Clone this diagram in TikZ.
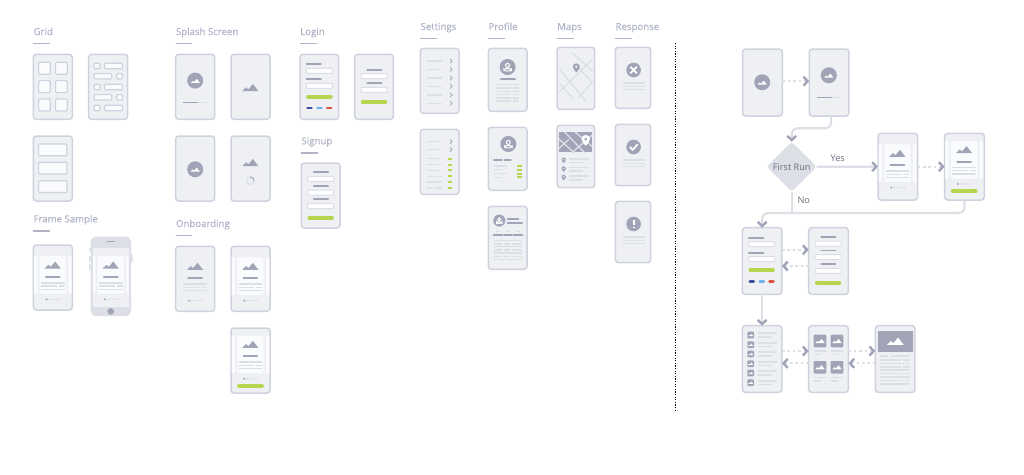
\documentclass[tikz,border=0pt]{standalone}
\usepackage{fontspec}
\setmainfont{Open Sans}
\newfontfamily\headfont[FakeBold=0.25]{Open Sans}
\usetikzlibrary{arrows.meta,shapes.geometric}
\definecolor{wfpaper}{HTML}{EFF0F4}
\definecolor{wfedge}{HTML}{CFD2DE}
\definecolor{wfgray}{HTML}{A1A4B6}
\definecolor{wfsoft}{HTML}{DDDFE7}
\definecolor{wfcell}{HTML}{FAFBFC}
\definecolor{wfhead}{HTML}{B0B4C6}
\definecolor{wfgreen}{HTML}{B6D64F}
\definecolor{wfblue}{HTML}{3F4F9B}
\definecolor{wfsky}{HTML}{6BB0EE}
\definecolor{wfred}{HTML}{D9553F}
\definecolor{wftext}{HTML}{6A6E7C}
\def\px{0.025cm}
\tikzset{
  wfscreen/.style={draw=wfedge, fill=wfpaper, line width=1.5*\px, rounded corners=3*\px, anchor=north west, inner sep=0, outer sep=0},
  wfbox/.style={draw=wfedge, fill=wfcell, line width=1.2*\px, rounded corners=1*\px},
  wffield/.style={draw=wfsoft, fill=white, line width=1*\px, rounded corners=.8*\px},
  softline/.style={draw=wfsoft, line width=1.6*\px},
  darkline/.style={draw=wfgray, line width=1.8*\px, line cap=round},
  greenbar/.style={draw=wfgreen, line width=3.8*\px, line cap=round},
  headtext/.style={font=\headfont\fontsize{6.85}{9}\selectfont, text=wfhead, anchor=base west, inner sep=0},
  flowtext/.style={font=\fontsize{6.5}{9}\selectfont, text=wftext, inner sep=0},
  flowline/.style={draw=wfsoft, line width=2.2*\px, -{Straight Barb[color=wfgray, length=4.2*\px, width=9*\px, line width=2.4*\px]}},
  dotline/.style={flowline, dash pattern=on 2.6*\px off 2.8*\px},
}
% headings and screens
\newcommand{\heading}[4]{%
  \node[headtext] (#1) at (#2,#3) {#4};
  \draw[draw=wfhead, line width=1.2*\px] (#2,#3+8.7) -- ++(16.5,0);}
\newcommand{\wfnode}[6]{%
  \node[wfscreen, minimum width=#4*\px, minimum height=#5*\px] (#1) at (#2,#3) {};
  \begin{scope}[shift={(#1.north west)}] #6 \end{scope}}
% small pieces
\newcommand{\peaks}[4]{\fill[#4, shift={(#1,#2)}, scale=#3] (-8,3.5) -- (-4.2,-.2) -- (-1.9,1.9) -- (2.6,-3.5) -- (8,3.5) -- cycle;}
\newcommand{\roundpeaks}[2]{\fill[wfgray] (#1,#2) circle[radius=8]; \peaks{#1}{#2+.3}{.58}{white}}
\newcommand{\person}[3]{%
  \fill[wfgray] (#1,#2) circle[radius=#3];
  \begin{scope}[shift={(#1,#2)}, scale=#3/8]
    \draw[white, line width=1*\px] (0,-1.6) circle[radius=2];
    \draw[white, line width=1*\px, rounded corners=1.5*\px] (-3.7,3.8) -- (-3.7,1.6) -- (3.7,1.6) -- (3.7,3.8) -- cycle;
  \end{scope}}
\newcommand{\mappin}[5]{%
  \begin{scope}[shift={(#1,#2)}, scale=#3]
    \fill[#4] (0,4.6) .. controls (-1.5,2.6) and (-3.5,.8) .. (-3.5,-1) arc[start angle=180, end angle=360, radius=3.5] .. controls (3.5,.8) and (1.5,2.6) .. (0,4.6) -- cycle;
    \fill[#5] (0,-1) circle[radius=1.3];
  \end{scope}}
\newcommand{\field}[1]{\draw[wffield] (6.3,#1) rectangle (32.3,#1+5);}
\newcommand{\textlines}[3]{% x start, x end, first y
  \draw[softline] (#1,#3) -- (#2,#3) (#1,#3+3.3) -- (#2-8,#3+3.3) (#2-6,#3+3.3) -- (#2,#3+3.3) (#1,#3+6.6) -- (#2,#3+6.6);}
\newcommand{\carddots}[1]{%
  \foreach \dx in {16,18.7,21.4,24.1,26.8} {\fill[wfsoft] (\dx,#1) circle[radius=1];}
  \fill[wfgray] (13.3,#1) circle[radius=1.1];}
% screen contents
\newcommand{\gridboxes}{\foreach \y in {8,26.3,44.7} {\foreach \x in {5.3,22.3} {\draw[wfbox] (\x,\y) rectangle ++(11.6,12);}}}
\newcommand{\listboxes}{%
  \foreach \y in {11.7,32.7,53.7} {\draw[wfbox] (5.3,\y-2.7) rectangle ++(6,5.4); \draw[wfbox] (15.7,\y-2.7) rectangle ++(18,5.4);}
  \foreach \y in {22,43} {\draw[wfbox] (5.3,\y-2.7) rectangle ++(17.7,5.4); \draw[wfbox] (28,\y-2.7) rectangle ++(5.7,5.4);}}
\newcommand{\rowboxes}{\foreach \y in {8,26.3,44.7} {\draw[wfbox] (5.3,\y) rectangle ++(28.4,11.7);}}
\newcommand{\splashload}{\roundpeaks{19.5}{26.3} \draw[draw=wfsoft, line width=1.3*\px] (7.7,48.3) -- (31,48.3); \draw[draw=wfgray, line width=1.3*\px] (7.7,48.3) -- (22.7,48.3);}
\newcommand{\splashpeaks}{\peaks{19.3}{33.2}{1}{wfgray}}
\newcommand{\splashround}{\roundpeaks{19.5}{33.3}}
\newcommand{\splashspin}{\peaks{19.3}{26.5}{1}{wfgray} \draw[draw=wfsoft, line width=1*\px] (19.3,44.7) circle[radius=3.8]; \draw[draw=wfgray, line width=1*\px] (19.3,40.9) arc[start angle=270, end angle=360, radius=3.8];}
\newcommand{\cardbody}[1]{% y offset of the card
  \begin{scope}[yshift=#1*\px]
    \peaks{19.3}{20}{1}{wfgray}
    \draw[darkline] (12.5,32) -- (26.3,32);
    \textlines{7.7}{31.3}{37.7}
  \end{scope}}
\newcommand{\cardback}[1]{%
  \fill[wfcell, rounded corners=1.5*\px] (6.3,11-#1) rectangle (32.7,48.7-#1);
  \fill[wfcell] (.6,11-#1) rectangle (4,48.7-#1) (35,11-#1) rectangle (38.4,48.7-#1);}
\newcommand{\onboardplain}{\cardbody{0} \carddots{54.3}}
\newcommand{\onboardcard}{\cardback{0} \cardbody{0} \carddots{54.3}}
\newcommand{\onboardbutton}{\cardback{3.5} \cardbody{3.7} \carddots{50.7} \draw[greenbar] (8,57.7) -- (31,57.7);}
\newcommand{\socialdots}[1]{%
  \draw[draw=wfblue, line width=2.6*\px, line cap=round] (7.5,#1) -- (11.5,#1);
  \draw[draw=wfsky, line width=2.6*\px, line cap=round] (17.5,#1) -- (21.5,#1);
  \draw[draw=wfred, line width=2.6*\px, line cap=round] (27.2,#1) -- (31.2,#1);}
\newcommand{\loginfull}{\draw[darkline] (6.5,10) -- (21,10); \field{14} \draw[darkline] (6.5,25) -- (21,25); \field{29} \draw[greenbar] (8,42.3) -- (30.7,42.3); \socialdots{53.7}}
\newcommand{\loginshort}{\draw[darkline] (12.5,15.3) -- (26.8,15.3); \field{19.3} \draw[darkline] (12.5,29) -- (26.8,29); \field{33} \draw[greenbar] (8,47.7) -- (30.7,47.7);}
\newcommand{\signupform}{\foreach \y in {9,22.7,36.3} {\draw[darkline] (12.5,\y) -- (26.8,\y); \field{\y+4.3}} \draw[greenbar] (8,55) -- (30.7,55);}
\newcommand{\chevrow}[1]{\draw[softline] (6.3,#1) -- (21.3,#1); \draw[draw=wfgray!80, line width=1.1*\px] (29.7,#1-2.2) -- (31.7,#1) -- (29.7,#1+2.2);}
\newcommand{\settingsplain}{\foreach \y in {12.7,21,29.7,38,46.7,55} {\chevrow{\y}}}
\newcommand{\settingsgreen}{%
  \foreach \y in {12.3,20.3} {\chevrow{\y}}
  \foreach \y in {29.3,41,52.7} {\draw[softline] (6.3,\y) -- (21.3,\y);}
  \foreach \y in {35.3,47,58.7} {\draw[softline] (6.3,\y) -- (12.5,\y) (14.5,\y) -- (21.3,\y);}
  \foreach \y in {29.3,35.3,41,47,52.7,58.7} {\draw[draw=wfgreen, line width=1.8*\px] (27.2,\y) -- (32,\y);}}
\newcommand{\profiletext}{\person{19.3}{18.7}{8} \draw[darkline] (12.5,31) -- (26.8,31);
  \foreach \y in {36.3,43,49.7} {\draw[softline] (8,\y) -- (31,\y);}
  \foreach \y in {39.7,46.3,52.9} {\draw[softline] (8,\y) -- (23,\y) (25,\y) -- (31,\y);}}
\newcommand{\profilegreen}{\person{20}{16.7}{8}
  \draw[darkline] (5.5,32.7) -- (13.5,32.7) (16.2,32.7) -- (22.5,32.7);
  \foreach \y/\x in {38.7/19,42.3/14,46.3/19,50/14} {\draw[softline] (5.3,\y) -- (\x,\y); \draw[draw=wfgreen, line width=1.8*\px] (29,\y) -- (34,\y);}}
\newcommand{\profilefeed}{\person{11}{14.3}{6}
  \draw[darkline] (19.2,13) -- (30,13) (19.2,16.3) -- (33.8,16.3);
  \foreach \xa/\xb in {5.3/14,15.7/23.7,25.3/34} {\draw[darkline] (\xa,28.7) -- (\xb,28.7); \draw[softline] (\xa+2,25.3) -- (\xb-2,25.3);}
  \foreach \y in {34.3,40.3,46.7,53} {\draw[softline] (5.3,\y) -- (34,\y);}
  \foreach \y in {37.7,43.7,50} {\draw[softline] (5.3,\y) -- (14,\y) (16,\y) -- (22,\y) (24,\y) -- (34,\y);}}
\newcommand{\mapstreets}{%
  \draw[draw=wfsoft, line width=1.3*\px] (15.3,5.3) -- (35.7,24.3) (35,12.7) -- (1.7,45) (2,21) -- (29.7,55) (2.3,36) -- (17,52) (36,34) -- (21,51) (21,20) -- (36,35.5);
  \mappin{19.3}{20.5}{1}{wfgray}{wfpaper}}
\newcommand{\maplist}{%
  \fill[wfgray] (2,6.7) rectangle (35.3,27);
  \begin{scope}
    \clip (2,6.7) rectangle (35.3,27);
    \draw[draw=wfsoft, line width=1.3*\px] (6,5) -- (30,30) (16,5) -- (35,21) (36,9) -- (12,30) (2,23) -- (12,14) (0,12) -- (20,30);
  \end{scope}
  \mappin{28.7}{15}{1.2}{white}{wfgray}
  \foreach \y in {35,43.7,52.3} {\mappin{6.7}{\y}{.62}{wfgray}{wfpaper} \draw[softline] (12.3,\y-1.4) -- (32.3,\y-1.4) (12.3,\y+2.2) -- (25.7,\y+2.2);}}
\newcommand{\replies}[1]{\fill[wfgray] (18.3,22.7) circle[radius=7.3]; #1
  \draw[softline] (8,35.7) -- (29.3,35.7) (8,39) -- (21.3,39) (23.7,39) -- (29.3,39) (8,42.3) -- (29.3,42.3);}
\newcommand{\replycross}{\replies{\draw[white, line width=1.7*\px] (15,19.4) -- (21.6,26) (21.6,19.4) -- (15,26);}}
\newcommand{\replycheck}{\replies{\draw[white, line width=1.7*\px] (14.6,22.7) -- (17.4,25.5) -- (22.4,19.9);}}
\newcommand{\replybang}{\replies{\draw[white, line width=1.8*\px] (18.3,18.8) -- (18.3,23.6) (18.3,25.2) -- (18.3,26.8);}}
\newcommand{\thumbs}[4]{% x, y, size, mountain scale
  \fill[wfgray, rounded corners=1*\px] (#1,#2) rectangle ++(#3,#3); \peaks{#1+#3/2}{#2+#3/2}{#4}{white}}
\newcommand{\thumblist}{\foreach \y in {9.3,19,28.3,38,47.3,57} {\thumbs{5}{\y-3.3}{6.7}{.32} \draw[softline] (16,\y-2) -- (34.7,\y-2) (16,\y+1.7) -- (30,\y+1.7);}}
\newcommand{\thumbgrid}{\foreach \y in {9,35.3} {\foreach \x in {5,22} {\thumbs{\x}{\y}{12.6}{.6} \draw[softline] (\x,\y+16.3) -- (\x+12,\y+16.3) (\x,\y+19.7) -- (\x+7,\y+19.7);}}}
\newcommand{\articleview}{\fill[wfgray] (2.3,5) rectangle (37.3,26.3); \peaks{20}{15.5}{1.05}{white}
  \foreach \y in {34,41,47.7,54.7} {\draw[softline] (5,\y) -- (26,\y) (28,\y) -- (34.7,\y);}
  \foreach \y in {37.7,44.3,51,58} {\draw[softline] (5,\y) -- (34.7,\y);}
  \draw[softline] (5,30.3) -- (13,30.3) (16,30.3) -- (34.7,30.3);}
\begin{document}
\begin{tikzpicture}[x=\px, y=-\px]
\useasboundingbox (0,0) rectangle (1024,474);
% Grid
\heading{gridhead}{33.3}{35}{Grid}
\wfnode{gridA}{33.3}{54.3}{39}{65}{\gridboxes}
\wfnode{gridB}{88.7}{54.3}{39}{65}{\listboxes}
\wfnode{gridC}{33.3}{136}{39}{65}{\rowboxes}
% Frame sample
\heading{samplehead}{33.3}{222.3}{Frame Sample}
\wfnode{sampleA}{33.3}{245}{39}{65}{\onboardcard}
\node[wfscreen, draw=none, fill=wfsoft, minimum width=40.3*\px, minimum height=79.3*\px, rounded corners=5*\px] (phone) at (90.7,236.7) {};
\begin{scope}[shift={(phone.north west)}]
  \fill[wfsoft, rounded corners=.8*\px] (-1.7,11) rectangle (0,15) (-1.7,19) rectangle (0,25) (-1.7,27) rectangle (0,33.3) (40.3,17) rectangle (42,26);
  \fill[wfpaper] (2,11.7) rectangle (38.3,70);
  \draw[draw=wfgray, line width=1.3*\px] (16.7,4.7) -- (24,4.7);
  \fill[wfgray] (20,74.7) circle[radius=3.3];
  \begin{scope}[shift={(.7,8.3)}]
    \fill[wfcell, rounded corners=1.5*\px] (6.3,11) rectangle (32.7,48.7);
    \fill[wfcell] (1.8,11) rectangle (4,48.7) (35,11) rectangle (37.2,48.7);
    \onboardplain
  \end{scope}
\end{scope}
% Splash screen
\heading{splashhead}{175.7}{35}{Splash Screen}
\wfnode{splashA}{175.7}{54.3}{39}{65}{\splashload}
\wfnode{splashB}{231}{54.3}{39}{65}{\splashpeaks}
\wfnode{splashC}{175.7}{136}{39}{65}{\splashround}
\wfnode{splashD}{231}{136}{39}{65}{\splashspin}
% Onboarding
\heading{onboardhead}{175.7}{227}{Onboarding}
\wfnode{onboardA}{175.7}{246.3}{39}{65}{\onboardplain}
\wfnode{onboardB}{231}{246.3}{39}{65}{\onboardcard}
\wfnode{onboardC}{231}{328}{39}{65}{\onboardbutton}
% Login and signup
\heading{loginhead}{300}{35}{Login}
\wfnode{loginA}{300}{54.3}{38.7}{65}{\loginfull}
\wfnode{loginB}{354.7}{54.3}{38.7}{65}{\loginshort}
\heading{signuphead}{301.3}{144.3}{Signup}
\wfnode{signupA}{301.3}{163}{38.7}{65}{\signupform}
% Settings
\heading{settingshead}{420.3}{30}{Settings}
\wfnode{settingsA}{420.3}{48.3}{38.7}{65}{\settingsplain}
\wfnode{settingsB}{420.3}{129.3}{38.7}{65}{\settingsgreen}
% Profile
\heading{profilehead}{488.3}{30}{Profile}
\wfnode{profileA}{488.3}{48.3}{38.7}{63}{\profiletext}
\wfnode{profileB}{488.3}{127.3}{38.7}{63}{\profilegreen}
\wfnode{profileC}{488.3}{206.3}{38.7}{63}{\profilefeed}
% Maps
\heading{mapshead}{557}{30}{Maps}
\wfnode{mapsA}{557}{47.3}{37.7}{62}{\mapstreets}
\wfnode{mapsB}{557}{125.3}{37.7}{62.4}{\maplist}
% Response
\heading{responsehead}{615.3}{30}{Response}
\wfnode{responseA}{615.3}{47.3}{35.4}{61}{\replycross}
\wfnode{responseB}{615.3}{124.3}{35.4}{61.4}{\replycheck}
\wfnode{responseC}{615.3}{201.3}{35.4}{61.4}{\replybang}
% Divider
\coordinate (dividetop) at (675.5,43);
\coordinate (dividebot) at (675.5,412);
\draw[black, line width=.9*\px, dash pattern=on 1.2*\px off 1.4*\px] (dividetop) -- (dividebot);
% Flow
\wfnode{flowsplash}{742.7}{49}{39.6}{67}{\splashround}
\wfnode{flowload}{809.3}{49}{39.6}{67}{\splashload}
\node[diamond, fill=wfsoft, rounded corners=3*\px, minimum size=50*\px, inner sep=0, outer sep=0] (firstrun) at (791.7,166.7) {};
\node[flowtext] (firstruntext) at (firstrun.center) {First Run};
\wfnode{flowcard}{878}{133.3}{39.6}{66.7}{\onboardcard}
\wfnode{flowbutton}{944.7}{133.3}{39.6}{66.7}{\onboardbutton}
\wfnode{flowlogin}{742.3}{227.7}{39.6}{66.7}{\loginfull}
\wfnode{flowsignup}{808.7}{227.7}{39.6}{66.7}{\signupform}
\wfnode{flowlist}{742.3}{325.7}{39.6}{66.7}{\thumblist}
\wfnode{flowgrid}{808.7}{325.7}{39.6}{66.7}{\thumbgrid}
\wfnode{flowarticle}{875.3}{325.7}{39.6}{66.7}{\articleview}
% Connectors
\coordinate (nojoin) at (791.7,213);
\draw[dotline] ([yshift=1.3*\px]flowsplash.east) -- ([yshift=1.3*\px]flowload.west);
\draw[flowline, rounded corners=6*\px] ([xshift=2*\px]flowload.south) -- ++(0,12.3) -| (firstrun.north);
\draw[flowline] (firstrun.east) -- (flowcard.west);
\draw[dotline] (flowcard.east) -- (flowbutton.west);
\draw[flowline, rounded corners=6*\px] (flowbutton.south) -- ++(0,13) -| (flowlogin.north);
\draw[flowline, -] (firstrun.south) -- (nojoin);
\draw[dotline] ([yshift=11.3*\px]flowlogin.east) -- ([yshift=11.3*\px]flowsignup.west);
\draw[dotline] ([yshift=-5*\px]flowsignup.west) -- ([yshift=-5*\px]flowlogin.east);
\draw[flowline] (flowlogin.south) -- (flowlist.north);
\draw[dotline] ([yshift=8*\px]flowlist.east) -- ([yshift=8*\px]flowgrid.west);
\draw[dotline] ([yshift=-4.3*\px]flowgrid.west) -- ([yshift=-4.3*\px]flowlist.east);
\draw[dotline] ([yshift=8*\px]flowgrid.east) -- ([yshift=8*\px]flowarticle.west);
\draw[dotline] ([yshift=-4.3*\px]flowarticle.west) -- ([yshift=-4.3*\px]flowgrid.east);
% Labels
\node[flowtext] (yeslabel) at (837.7,158.7) {Yes};
\node[flowtext] (nolabel) at (803.7,200.3) {No};
\end{tikzpicture}
\end{document}
